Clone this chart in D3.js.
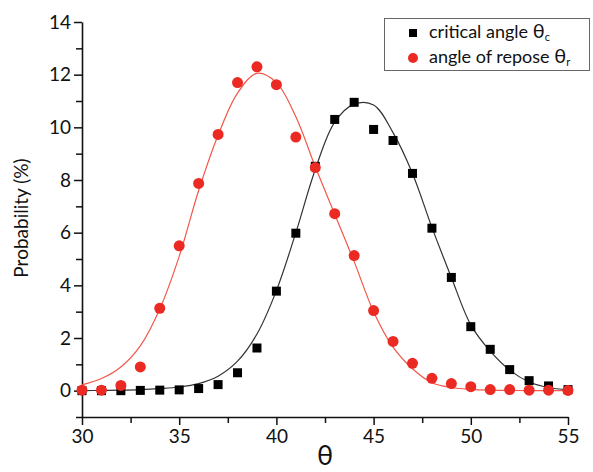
<!DOCTYPE html>
<html lang="en">
  <head>
    <meta charset="utf-8">
    <title>Critical angle vs angle of repose</title>
    <script src="https://d3js.org/d3.v7.min.js"></script>
    <style>
      body { margin: 0; background: #fff; }
      text { font-family: Lato, "Open Sans", sans-serif; fill: #111; }
    </style>
  </head>
  <body>
    <svg width="593" height="472"></svg>
    <script type="text/javascript">
      // angles (deg)
      var angles = [30, 31, 32, 33, 34, 35, 36, 37, 38, 39, 40, 41, 42,
                    43, 44, 45, 46, 47, 48, 49, 50, 51, 52, 53, 54, 55];

      // measured probability (%) - critical angle
      var critical = [0, 0, 0, 0.01, 0.02, 0.03, 0.08, 0.23, 0.68, 1.62, 3.78, 5.98, 8.52,
                      10.3, 10.95, 9.92, 9.5, 8.25, 6.17, 4.3, 2.43, 1.57, 0.8, 0.38, 0.18, 0.04];
      // measured probability (%) - angle of repose
      var repose = [0.02, 0.02, 0.2, 0.9, 3.13, 5.5, 7.87, 9.73, 11.7, 12.3, 11.62, 9.63, 8.47,
                    6.72, 5.13, 3.04, 1.87, 1.04, 0.47, 0.27, 0.15, 0.04, 0.04, 0.02, 0.02, 0.01];

      var criticalFit = [0, 0.01, 0.02, 0.04, 0.08, 0.14, 0.27, 0.55, 1.12, 2.15, 3.8, 6.0, 8.4,
                         10.2, 10.88, 10.85, 9.8, 8.25, 6.2, 4.3, 2.5, 1.5, 0.78, 0.33, 0.12, 0.03];
      var reposeFit = [0.22, 0.46, 0.9, 1.7, 3.1, 5.1, 7.6, 9.7, 11.3, 12.05, 11.7, 10.4, 8.5,
                       6.7, 4.9, 3.0, 1.65, 0.83, 0.3, 0.12, 0.05, 0.02, 0.01, 0, 0, 0];

      var xMajor = [30, 35, 40, 45, 50, 55];
      var xMinor = [32.5, 37.5, 42.5, 47.5, 52.5];
      var yMajor = [0, 2, 4, 6, 8, 10, 12, 14];
      var yMinor = [-1, 1, 3, 5, 7, 9, 11, 13];

      var svg = d3.select("svg");

      var x = d3.scaleLinear().domain([30, 55]).range([82, 568]);
      var y = d3.scaleLinear().domain([-1, 14]).range([417, 22]);

      var black = "#000",
          red = "#ec2a24",
          redLine = "#f2574a",
          blackLine = "#333";

      // minor ticks first, then main axes on top
      svg.append("g")
          .attr("transform", "translate(0,417)")
          .call(d3.axisBottom(x).tickValues(xMinor).tickSize(6).tickFormat(""))
          .call(function(g) { g.select(".domain").remove(); });
      svg.append("g")
          .attr("transform", "translate(82,0)")
          .call(d3.axisLeft(y).tickValues(yMinor).tickSize(6).tickFormat(""))
          .call(function(g) { g.select(".domain").remove(); });

      var xAxis = svg.append("g")
          .attr("transform", "translate(0,417)")
          .call(d3.axisBottom(x).tickValues(xMajor).tickSize(8).tickSizeOuter(0).tickPadding(5));
      var yAxis = svg.append("g")
          .attr("transform", "translate(82,0)")
          .call(d3.axisLeft(y).tickValues(yMajor).tickSize(8).tickSizeOuter(0).tickPadding(3));

      svg.selectAll(".tick line").attr("stroke", "#111").attr("stroke-width", 1.5);
      svg.selectAll(".domain").attr("stroke", "#111").attr("stroke-width", 1.6);
      svg.selectAll(".tick text").style("font-size", "19px").style("font-family", "Lato, sans-serif").attr("fill", "#111");

      // axis titles
      svg.append("text")
          .attr("x", (x(30) + x(55)) / 2)
          .attr("y", 465)
          .attr("text-anchor", "middle")
          .style("font-size", "27px")
          .text("θ");

      svg.append("text")
          .attr("transform", "translate(28," + 218 + ") rotate(-90)")
          .attr("text-anchor", "middle")
          .style("font-size", "19px")
          .text("Probability (%)");

      // fitted curves
      var line = d3.line()
          .x(function(d) { return x(d[0]); })
          .y(function(d) { return y(d[1]); })
          .curve(d3.curveCatmullRom);

      svg.append("path")
          .datum(d3.zip(angles, criticalFit))
          .attr("fill", "none")
          .attr("stroke", blackLine)
          .attr("stroke-width", 1.2)
          .attr("d", line);

      svg.append("path")
          .datum(d3.zip(angles, reposeFit))
          .attr("fill", "none")
          .attr("stroke", redLine)
          .attr("stroke-width", 1.2)
          .attr("d", line);

      // markers
      var sq = 9;
      svg.append("g").selectAll("rect")
          .data(d3.zip(angles, critical))
          .enter().append("rect")
          .attr("x", function(d) { return x(d[0]) - sq / 2; })
          .attr("y", function(d) { return y(d[1]) - sq / 2; })
          .attr("width", sq)
          .attr("height", sq)
          .attr("fill", black);

      svg.append("g").selectAll("circle")
          .data(d3.zip(angles, repose))
          .enter().append("circle")
          .attr("cx", function(d) { return x(d[0]); })
          .attr("cy", function(d) { return y(d[1]); })
          .attr("r", 5.5)
          .attr("fill", red);

      // legend
      var legend = svg.append("g");
      legend.append("rect")
          .attr("x", 384.5).attr("y", 18.5)
          .attr("width", 205).attr("height", 52)
          .attr("fill", "#fff")
          .attr("stroke", "#666")
          .attr("stroke-width", 1);

      legend.append("rect")
          .attr("x", 413 - 4).attr("y", 33 - 4)
          .attr("width", 8).attr("height", 8)
          .attr("fill", black);
      legend.append("circle")
          .attr("cx", 413).attr("cy", 58).attr("r", 5)
          .attr("fill", red);

      var t1 = legend.append("text")
          .attr("x", 429).attr("y", 38)
          .style("font-size", "18px");
      t1.append("tspan").text("critical angle ");
      t1.append("tspan").style("font-size", "20px").text("θ");
      t1.append("tspan").attr("dy", 3).style("font-size", "11px").text("c");

      var t2 = legend.append("text")
          .attr("x", 429).attr("y", 63)
          .style("font-size", "18px");
      t2.append("tspan").text("angle of repose ");
      t2.append("tspan").style("font-size", "20px").text("θ");
      t2.append("tspan").attr("dy", 3).style("font-size", "11px").text("r");
    </script>
  </body>
</html>
